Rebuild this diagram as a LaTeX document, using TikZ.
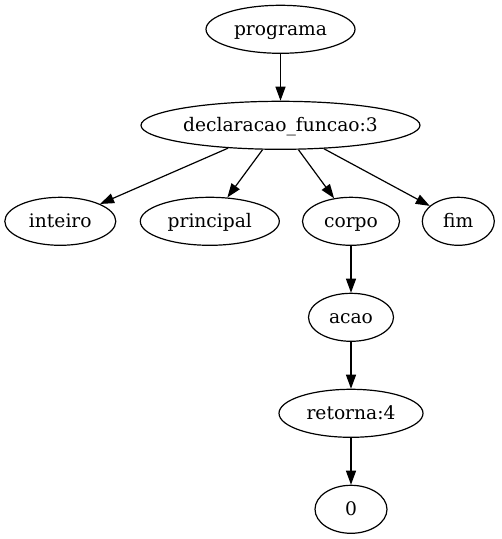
\documentclass[tikz,border=0pt]{standalone}
\usepackage{fontspec}
\setmainfont{DejaVu Serif}
\usetikzlibrary{shapes.geometric,arrows.meta}
\begin{document}
\begin{tikzpicture}[x=0.75pt,y=-0.75pt,
  treenode/.style={ellipse,draw,line width=0.9pt,inner sep=0pt,
    minimum height=36pt,text height=10pt,text depth=1.4pt,
    font=\fontsize{14pt}{16pt}\selectfont},
  edge/.style={line width=0.9pt,-{Triangle[length=10.5pt,width=7.5pt]}}]
\useasboundingbox (0,0) rectangle (501,539);
\node[treenode,minimum width=111.75pt] (prog) at (280.5,29.3) {programa};
\node[treenode,minimum width=209.25pt] (decl) at (280.5,125.3) {declaracao\_funcao:3};
\node[treenode,minimum width=83.25pt] (int) at (60.3,221.3) {inteiro};
\node[treenode,minimum width=104.25pt] (princ) at (209.8,221.3) {principal};
\node[treenode,minimum width=72.75pt] (corpo) at (351,221.3) {corpo};
\node[treenode,minimum width=54pt] (fim) at (458.3,221.3) {fim};
\node[treenode,minimum width=63.75pt] (acao) at (351,317.3) {acao};
\node[treenode,minimum width=108pt] (ret) at (351,413.3) {retorna:4};
\node[treenode,minimum width=54pt] (zero) at (351,509.3) {0};
\draw[edge] (prog) -- (decl);
\draw[edge] (decl) -- (int);
\draw[edge] (decl) -- (princ);
\draw[edge] (decl) -- (corpo);
\draw[edge] (decl) -- (fim);
\draw[edge] (corpo) -- (acao);
\draw[edge] (acao) -- (ret);
\draw[edge] (ret) -- (zero);
\end{tikzpicture}
\end{document}
